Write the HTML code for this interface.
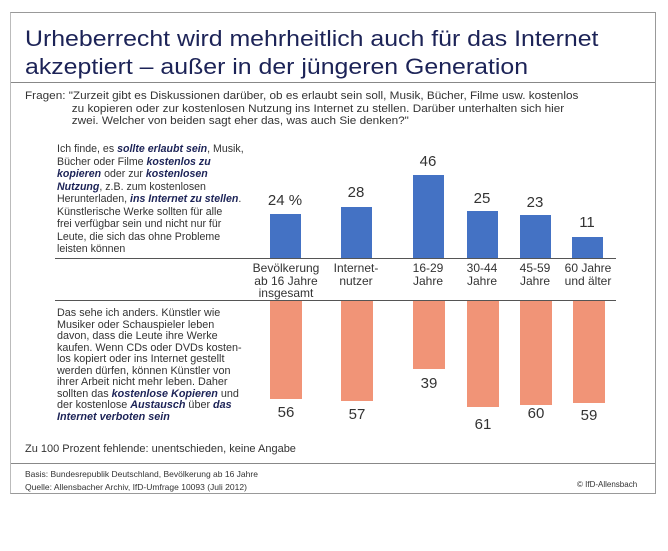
<!DOCTYPE html>
<html><head><meta charset="utf-8"><style>
body{margin:0;background:#fff;width:668px;height:551px;position:relative;overflow:hidden;font-family:"Liberation Sans",sans-serif;color:#222}
div{position:absolute;white-space:nowrap}
.t{font-size:22px;color:#1c2357;left:25px;transform:scaleX(1.13);transform-origin:0 0;font-weight:normal}
.lt{font-size:10.6px;line-height:12.5px;color:#333}
.lt b{color:#1c2357;font-style:italic}
.bb{background:#4472c4;width:31px}
.ob{background:#f19477;width:32px}
.n{font-size:15px;color:#333;text-align:center;width:60px}
.c{font-size:12px;line-height:12.5px;text-align:center;color:#333}
</style></head><body>
<div style="left:10px;top:12px;width:644px;height:480px;border:1px solid #999;border-left-color:#bbb"></div>
<div class="t" style="top:26px">Urheberrecht wird mehrheitlich auch für das Internet</div>
<div class="t" style="top:54px">akzeptiert – außer in der jüngeren Generation</div>
<div style="left:11px;top:82px;width:644px;height:1px;background:#888"></div>
<div style="left:25px;top:90px;font-size:11.3px;line-height:12.6px;color:#333;transform:scaleX(1.04);transform-origin:0 0">Fragen: "Zurzeit gibt es Diskussionen darüber, ob es erlaubt sein soll, Musik, Bücher, Filme usw. kostenlos<br><span style="padding-left:45px">zu kopieren oder zur kostenlosen Nutzung ins Internet zu stellen. Darüber unterhalten sich hier</span><br><span style="padding-left:45px">zwei. Welcher von beiden sagt eher das, was auch Sie denken?"</span></div>
<div class="lt" style="left:57px;top:143px">Ich finde, es <b>sollte erlaubt sein</b>, Musik,<br>Bücher oder Filme <b>kostenlos zu</b><br><b>kopieren</b> oder zur <b>kostenlosen</b><br><b>Nutzung</b>, z.B. zum kostenlosen<br>Herunterladen, <b>ins Internet zu stellen</b>.<br>Künstlerische Werke sollten für alle<br>frei verfügbar sein und nicht nur für<br>Leute, die sich das ohne Probleme<br>leisten können</div>
<div style="left:55px;top:258px;width:561px;height:1px;background:#555"></div>
<div style="left:55px;top:300px;width:561px;height:1px;background:#555"></div>
<div class="bb" style="left:270px;top:214px;height:44px"></div>
<div class="bb" style="left:341px;top:207px;height:51px"></div>
<div class="bb" style="left:413px;top:175px;height:83px"></div>
<div class="bb" style="left:467px;top:211px;height:47px"></div>
<div class="bb" style="left:520px;top:215px;height:43px"></div>
<div class="bb" style="left:572px;top:237px;height:21px"></div>
<div class="n" style="left:255px;top:192px">24 %</div>
<div class="n" style="left:326px;top:184px">28</div>
<div class="n" style="left:398px;top:153px">46</div>
<div class="n" style="left:452px;top:190px">25</div>
<div class="n" style="left:505px;top:194px">23</div>
<div class="n" style="left:557px;top:214px">11</div>
<div class="c" style="left:246px;top:262px;width:80px">Bevölkerung<br>ab 16 Jahre<br>insgesamt</div>
<div class="c" style="left:326px;top:262px;width:60px">Internet-<br>nutzer</div>
<div class="c" style="left:398px;top:262px;width:60px">16-29<br>Jahre</div>
<div class="c" style="left:452px;top:262px;width:60px">30-44<br>Jahre</div>
<div class="c" style="left:505px;top:262px;width:60px">45-59<br>Jahre</div>
<div class="c" style="left:557px;top:262px;width:62px">60 Jahre<br>und älter</div>
<div class="ob" style="left:270px;top:301px;height:98px"></div>
<div class="ob" style="left:341px;top:301px;height:100px"></div>
<div class="ob" style="left:413px;top:301px;height:68px"></div>
<div class="ob" style="left:467px;top:301px;height:106px"></div>
<div class="ob" style="left:520px;top:301px;height:104px"></div>
<div class="ob" style="left:573px;top:301px;height:102px"></div>
<div class="n" style="left:256px;top:404px">56</div>
<div class="n" style="left:327px;top:406px">57</div>
<div class="n" style="left:399px;top:375px">39</div>
<div class="n" style="left:453px;top:416px">61</div>
<div class="n" style="left:506px;top:405px">60</div>
<div class="n" style="left:559px;top:407px">59</div>
<div class="lt" style="left:57px;top:308px;font-size:10.8px;line-height:11.5px">Das sehe ich anders. Künstler wie<br>Musiker oder Schauspieler leben<br>davon, dass die Leute ihre Werke<br>kaufen. Wenn CDs oder DVDs kosten-<br>los kopiert oder ins Internet gestellt<br>werden dürfen, können Künstler von<br>ihrer Arbeit nicht mehr leben. Daher<br>sollten das <b>kostenlose Kopieren</b> und<br>der kostenlose <b>Austausch</b> über <b>das</b><br><b>Internet verboten sein</b></div>
<div style="left:25px;top:443px;font-size:11px;color:#333">Zu 100 Prozent fehlende: unentschieden, keine Angabe</div>
<div style="left:11px;top:463px;width:644px;height:1px;background:#888"></div>
<div style="left:25px;top:469px;font-size:8.5px;color:#333">Basis: Bundesrepublik Deutschland, Bevölkerung ab 16 Jahre</div>
<div style="left:25px;top:482px;font-size:8.5px;color:#333">Quelle: Allensbacher Archiv, IfD-Umfrage 10093 (Juli 2012)</div>
<div style="left:577px;top:480px;font-size:8px;color:#333">© IfD-Allensbach</div>
</body></html>
